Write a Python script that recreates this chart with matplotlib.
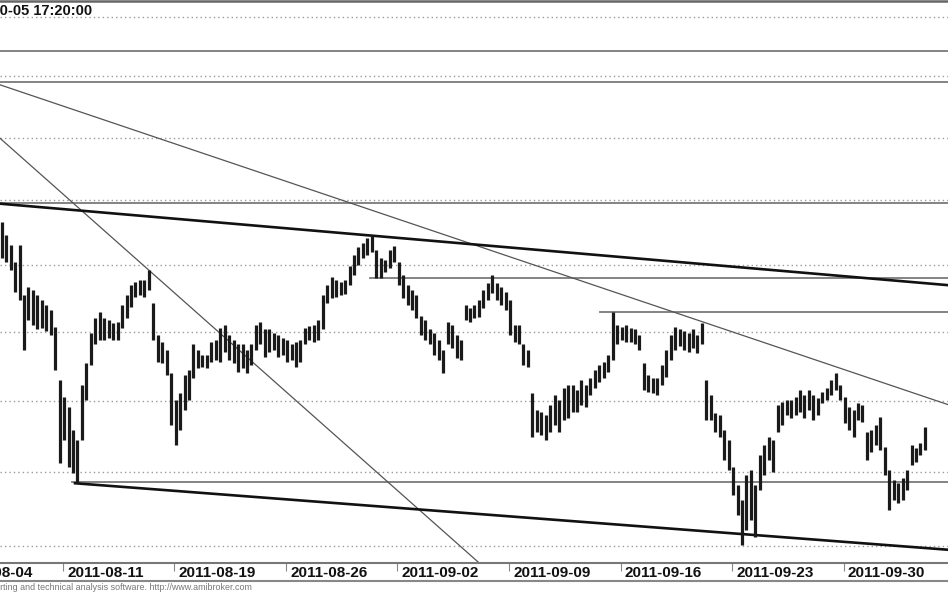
import matplotlib
matplotlib.use("Agg")
import matplotlib.pyplot as plt
from matplotlib.lines import Line2D
from matplotlib.ticker import NullLocator

# intraday bars, 5 per trading day; day 0 = 2011-08-04
TITLE = "2011-10-05 17:20:00"
CREDIT = "AmiBroker - charting and technical analysis software. http://www.amibroker.com"
BARS_PER_DAY = 5
FIRST_BAR_DAY = 2.25

HIGH = [33.67, 33.47, 33.31, 33.05, 33.31, 32.55, 32.67, 32.63, 32.55, 32.48,
        32.40, 32.33, 32.08, 31.30, 31.06, 30.92, 30.59, 30.45, 31.23, 31.55,
        31.99, 32.21, 32.30, 32.21, 32.18, 32.14, 32.15, 32.40, 32.55, 32.70,
        32.75, 32.78, 32.78, 32.93, 32.44, 31.96, 31.85, 31.74, 31.40, 31.02,
        31.12, 31.37, 31.45, 31.82, 31.74, 31.67, 31.67, 31.85, 31.89, 32.06,
        32.11, 31.96, 31.89, 31.82, 31.82, 31.74, 31.82, 32.11, 32.15, 32.04,
        32.04, 31.99, 31.96, 31.92, 31.89, 31.82, 31.85, 31.89, 32.06, 32.09,
        32.11, 32.18, 32.55, 32.70, 32.83, 32.78, 32.75, 32.78, 32.99, 33.16,
        33.28, 33.34, 33.42, 33.45, 33.24, 33.11, 33.08, 33.24, 33.30, 33.05,
        32.86, 32.70, 32.63, 32.55, 32.24, 32.18, 32.04, 31.99, 31.89, 31.74,
        32.15, 32.11, 31.96, 31.89, 32.40, 32.36, 32.40, 32.48, 32.63, 32.73,
        32.86, 32.73, 32.67, 32.60, 32.48, 32.11, 32.11, 31.82, 31.74, 31.12,
        30.88, 30.85, 30.80, 30.95, 31.09, 31.02, 31.19, 31.23, 31.23, 31.16,
        31.30, 31.23, 31.33, 31.45, 31.52, 31.56, 31.67, 32.30, 32.11, 32.08,
        32.11, 32.06, 32.04, 31.96, 31.55, 31.37, 31.33, 31.33, 31.52, 31.74,
        31.96, 32.08, 32.04, 32.01, 31.99, 32.04, 31.96, 32.14, 31.30, 31.09,
        30.83, 30.80, 30.59, 30.45, 30.07, 29.82, 29.62, 29.96, 30.03, 29.82,
        30.24, 30.38, 30.49, 30.45, 30.95, 30.99, 31.02, 31.02, 31.06, 31.16,
        31.09, 31.16, 31.09, 31.05, 31.13, 31.19, 31.30, 31.40, 31.23, 31.06,
        30.92, 30.88, 30.98, 30.95, 30.56, 30.59, 30.66, 30.77, 30.35, 30.03,
        29.89, 29.86, 29.92, 30.03, 30.38, 30.34, 30.41, 30.63]
LOW = [33.11, 33.05, 32.93, 32.60, 32.48, 31.74, 32.18, 32.11, 32.04, 32.06,
       32.01, 31.96, 31.45, 30.13, 30.45, 30.07, 29.99, 29.85, 30.45, 31.02,
       31.52, 31.82, 31.89, 31.89, 31.92, 31.89, 31.89, 32.06, 32.21, 32.37,
       32.52, 32.55, 32.52, 32.63, 31.89, 31.56, 31.55, 31.37, 30.66, 30.38,
       30.59, 30.88, 31.02, 31.33, 31.47, 31.49, 31.47, 31.56, 31.59, 31.56,
       31.71, 31.59, 31.55, 31.42, 31.47, 31.40, 31.52, 31.74, 31.82, 31.63,
       31.71, 31.74, 31.63, 31.67, 31.56, 31.59, 31.49, 31.56, 31.82, 31.89,
       31.86, 31.89, 32.04, 32.44, 32.51, 32.52, 32.55, 32.57, 32.70, 32.86,
       33.00, 33.11, 33.16, 33.20, 32.81, 32.81, 32.90, 32.96, 33.05, 32.70,
       32.51, 32.40, 32.33, 32.21, 31.96, 31.89, 31.82, 31.67, 31.59, 31.40,
       31.82, 31.77, 31.62, 31.59, 32.18, 32.15, 32.21, 32.23, 32.36, 32.48,
       32.58, 32.48, 32.40, 32.33, 31.96, 31.86, 31.82, 31.52, 31.49, 30.49,
       30.56, 30.52, 30.45, 30.56, 30.66, 30.56, 30.73, 30.76, 30.85, 30.85,
       30.95, 30.92, 31.09, 31.19, 31.27, 31.33, 31.42, 31.59, 31.82, 31.89,
       31.85, 31.85, 31.82, 31.74, 31.16, 31.13, 31.12, 31.09, 31.23, 31.34,
       31.59, 31.74, 31.79, 31.74, 31.71, 31.77, 31.70, 31.82, 30.73, 30.73,
       30.56, 30.49, 30.17, 30.03, 29.69, 29.42, 29.01, 29.22, 29.35, 29.12,
       29.76, 29.96, 30.17, 30.00, 30.56, 30.66, 30.80, 30.76, 30.80, 30.85,
       30.76, 30.88, 30.73, 30.80, 30.98, 31.02, 31.09, 31.16, 31.02, 30.69,
       30.59, 30.49, 30.73, 30.70, 30.17, 30.28, 30.38, 30.31, 29.96, 29.49,
       29.62, 29.58, 29.62, 29.76, 30.10, 30.14, 30.24, 30.31]

DATE_LABELS = ["2011-08-04", "2011-08-11", "2011-08-19", "2011-08-26", "2011-09-02",
               "2011-09-09", "2011-09-16", "2011-09-23", "2011-09-30"]
DATE_DAYS = [0, 5, 10, 15, 20, 25, 30, 35, 40]
GRID_LEVELS = [29, 30, 31, 32, 33, 34, 35, 36, 37]

# horizontal study lines: price, start day
HLINE_PRICE = [36.42, 35.91, 33.96, 32.81, 32.30, 29.87]
HLINE_FROM = [2.17, 2.17, 2.17, 18.77, 29.08, 5.40]
# trend lines: (day, price) -> (day, price)
THICK_LINES = [((2.17, 33.95), (44.69, 32.70)),
               ((5.54, 29.85), (44.69, 28.95))]
THIN_LINES = [((2.17, 35.86), (44.69, 30.95)),
              ((2.17, 34.99), (25.49, 28.30))]

XMIN, XMAX = 2.175, 44.686
YMIN, YMAX = 28.774, 37.27

fig = plt.figure(figsize=(9.48, 5.93), dpi=100)
ax = fig.add_axes([0, 30 / 593, 1, 562 / 593])
ax.set_yscale("log")

for s in ("left", "right"):
    ax.spines[s].set_visible(False)
ax.spines["top"].set_color("#666666"); ax.spines["top"].set_linewidth(1.8)
ax.spines["bottom"].set_color("#777777"); ax.spines["bottom"].set_linewidth(1.5)

ax.hlines(GRID_LEVELS, XMIN, XMAX, colors="#9a9a9a", linestyles=(0, (1, 2.2)), lw=1.0, zorder=1)

for p, x0 in zip(HLINE_PRICE, HLINE_FROM):
    ax.plot([x0, XMAX], [p, p], color="#7a7a7a", lw=1.3, zorder=2)
for (a, b) in THIN_LINES:
    ax.plot([a[0], b[0]], [a[1], b[1]], color="#555555", lw=0.9, zorder=2)
for (a, b) in THICK_LINES:
    ax.plot([a[0], b[0]], [a[1], b[1]], color="#111111", lw=1.9, zorder=2)

xs = [FIRST_BAR_DAY + i / BARS_PER_DAY for i in range(len(HIGH))]
ax.vlines(xs, LOW, HIGH, colors="#1a1a1a", lw=2.3, zorder=3)

ax.set_xticks(DATE_DAYS)
ax.set_xticklabels([])
ax.tick_params(axis="x", direction="out", length=6, width=0.8, color="#888888")
ax.set_yticks([])
ax.yaxis.set_minor_locator(NullLocator())
ax.xaxis.set_minor_locator(NullLocator())
# limits last: set_xticks would widen the view to include day 0
ax.set_xlim(XMIN, XMAX)
ax.set_ylim(YMIN, YMAX)

for d, lab in zip(DATE_DAYS, DATE_LABELS):
    ax.annotate(lab, xy=(d, 0), xycoords=ax.get_xaxis_transform(), xytext=(3, -7),
                textcoords="offset points", ha="left", va="center", fontsize=11,
                fontweight="bold", family="Liberation Sans", color="#111111",
                annotation_clip=False)

fig.add_artist(Line2D([0, 1], [12 / 593, 12 / 593], transform=fig.transFigure,
                      color="#888888", lw=1.5))
fig.text(-45 / 948, 1 - 11 / 593, TITLE, ha="left", va="center", fontsize=10.5,
         fontweight="bold", family="Liberation Sans", color="#111111")
fig.text(-64 / 948, 5 / 593, CREDIT, ha="left", va="center", fontsize=6.4,
         family="Liberation Sans", color="#777777")

fig.savefig("out.png", dpi=100)
